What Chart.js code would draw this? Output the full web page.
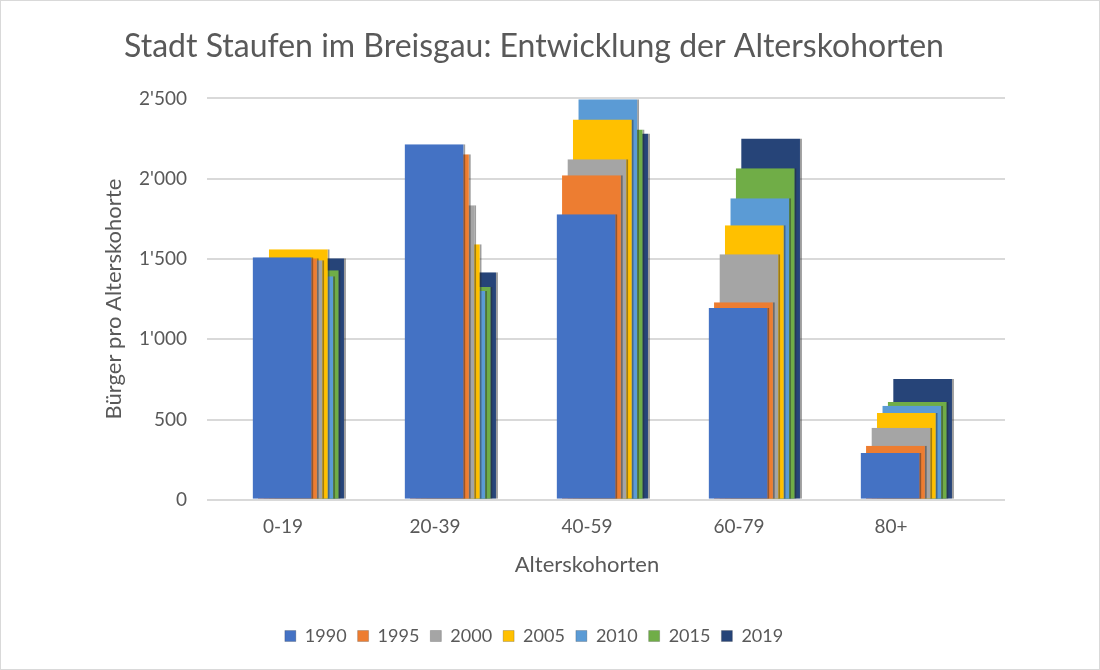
<!DOCTYPE html>
<html>
<head>
<meta charset="utf-8">
<title>Stadt Staufen im Breisgau: Entwicklung der Alterskohorten</title>
<script src="https://cdn.jsdelivr.net/npm/chart.js@4.4.1/dist/chart.umd.min.js"></script>
<style>
  html, body { margin: 0; padding: 0; background: #fff; }
  .chart-box {
    width: 1100px;
    height: 670px;
    box-sizing: border-box;
    border: 1px solid #d9d9d9;
    position: relative;
  }
</style>
</head>
<body>
<div class="chart-box">
  <canvas id="kohorten"></canvas>
</div>
<script>
// data
const CATEGORIES = ['0-19', '20-39', '40-59', '60-79', '80+'];
const YEARS = ['1990', '1995', '2000', '2005', '2010', '2015', '2019'];
const V1990 = [1511, 2214, 1779, 1194, 292];
const V1995 = [1505, 2152, 2021, 1231, 336];
const V2000 = [1492, 1835, 2121, 1530, 448];
const V2005 = [1560, 1592, 2369, 1710, 541];
const V2010 = [1393, 1300, 2494, 1878, 585];
const V2015 = [1430, 1325, 2307, 2065, 609];
const V2019 = [1505, 1418, 2282, 2251, 752];
const Y_TICKS = [0, 500, 1000, 1500, 2000, 2500];

const SERIES = [V1990, V1995, V2000, V2005, V2010, V2015, V2019];
const COLORS = ['#4472c4', '#ed7d31', '#a5a5a5', '#ffc000', '#5b9bd5', '#70ad47', '#264478'];

const TEXT = '#595959';
const GRID = '#d9d9d9';
const FONT = 'Lato, "Open Sans", sans-serif';

// each year sits a small step behind/right of the one before (excel 3d look)
const CAT_PCT = 0.25;
const BAR_PCT = 11.2;
// move the group so the 1990 bar is centred on the category
const SHIFT = 3 * CAT_PCT / YEARS.length;

function swissNumber(v) {
  return String(v).replace(/\B(?=(\d{3})+(?!\d))/g, "'");
}

// the gridlines run on into the depth behind the last bar
const depthGrid = {
  id: 'depthGrid',
  beforeDatasetsDraw(chart) {
    const { ctx, chartArea, scales } = chart;
    const depth = chartArea.width / CATEGORIES.length * CAT_PCT;
    ctx.save();
    ctx.strokeStyle = GRID;
    ctx.lineWidth = 2;
    scales.y.ticks.forEach(t => {
      const py = Math.round(scales.y.getPixelForValue(t.value));
      ctx.beginPath();
      ctx.moveTo(chartArea.right - 1, py);
      ctx.lineTo(chartArea.right + depth, py);
      ctx.stroke();
    });
    ctx.restore();
  }
};

const datasets = YEARS.map((year, i) => ({
  label: year,
  data: SERIES[i].map((v, k) => ({ x: k, y: v })),
  backgroundColor: COLORS[i],
  borderColor: 'rgba(40, 40, 40, 0.45)',
  borderWidth: { top: 0, right: 2, bottom: 0, left: 0 },
  borderSkipped: false,
  categoryPercentage: CAT_PCT,
  barPercentage: BAR_PCT
}));

new Chart(document.getElementById('kohorten'), {
  type: 'bar',
  data: { datasets: datasets },
  options: {
    responsive: true,
    maintainAspectRatio: false,
    animation: false,
    layout: { padding: { top: 18, left: 100, right: 132, bottom: 14 } },
    plugins: {
      title: {
        display: true,
        text: 'Stadt Staufen im Breisgau: Entwicklung der Alterskohorten',
        color: TEXT,
        font: { family: FONT, size: 32, weight: 'normal' },
        padding: { top: 8, bottom: 33 }
      },
      legend: {
        position: 'bottom',
        labels: {
          color: TEXT,
          font: { family: FONT, size: 18 },
          boxWidth: 11,
          boxHeight: 11,
          padding: 11
        }
      },
      tooltip: { enabled: false }
    },
    scales: {
      x: {
        type: 'linear',
        offset: false,
        min: -0.5 - SHIFT,
        max: CATEGORIES.length - 0.5 - SHIFT,
        afterBuildTicks: scale => {
          scale.ticks = CATEGORIES.map((c, i) => ({ value: i - SHIFT }));
        },
        grid: { display: false },
        border: { display: false },
        ticks: {
          color: TEXT,
          font: { family: FONT, size: 19 },
          padding: 8,
          callback: (value, index) => CATEGORIES[index]
        },
        title: {
          display: true,
          text: 'Alterskohorten',
          color: TEXT,
          font: { family: FONT, size: 22 },
          padding: { top: 5, bottom: 38 }
        }
      },
      y: {
        min: 0,
        max: 2500,
        afterBuildTicks: scale => {
          scale.ticks = Y_TICKS.map(v => ({ value: v }));
        },
        grid: { color: GRID, lineWidth: 2, drawTicks: false },
        border: { display: false },
        ticks: {
          color: TEXT,
          font: { family: FONT, size: 19 },
          padding: 20,
          callback: v => swissNumber(v)
        },
        title: {
          display: true,
          text: 'Bürger pro Alterskohorte',
          color: TEXT,
          font: { family: FONT, size: 22 },
          padding: { top: 0, bottom: 12 }
        },
        afterFit: scale => { scale.width = 106; }
      }
    }
  },
  plugins: [depthGrid]
});
</script>
</body>
</html>
